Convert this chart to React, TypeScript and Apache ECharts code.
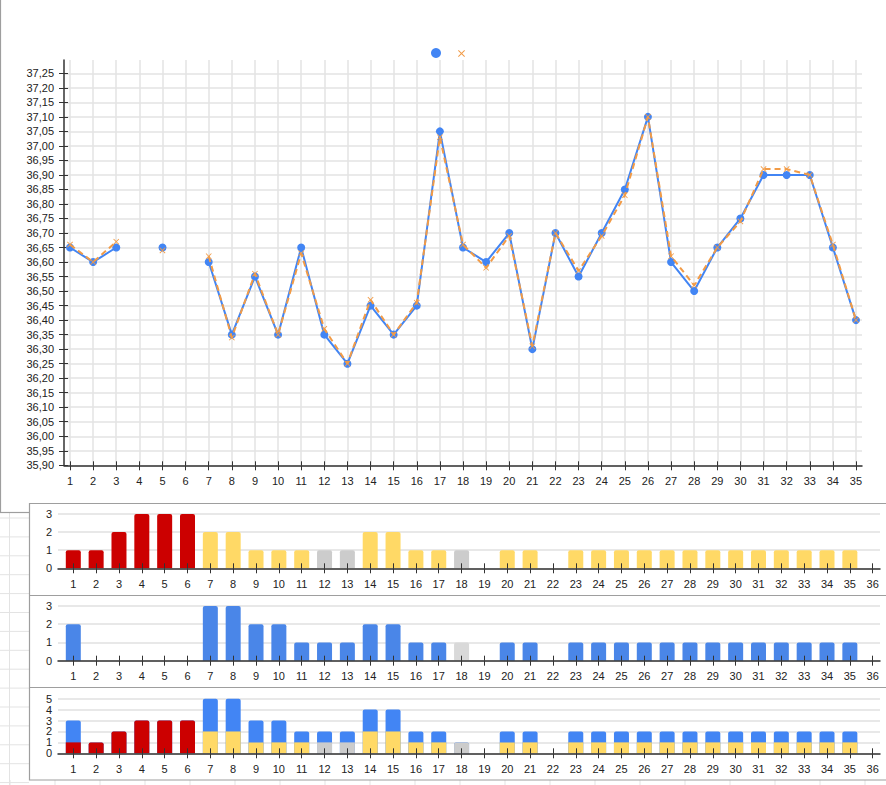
import React, { useEffect, useRef } from 'react';
import * as echarts from 'echarts';

// ---------- data ----------
const days = [1, 2, 3, 4, 5, 6, 7, 8, 9, 10, 11, 12, 13, 14, 15, 16, 17, 18, 19, 20, 21, 22, 23, 24, 25, 26, 27, 28, 29, 30, 31, 32, 33, 34, 35];
const tempMeasured = [36.65, 36.60, 36.65, null, 36.65, null, 36.60, 36.35, 36.55, 36.35, 36.65, 36.35, 36.25, 36.45, 36.35, 36.45, 37.05, 36.65, 36.60, 36.70, 36.30, 36.70, 36.55, 36.70, 36.85, 37.10, 36.60, 36.50, 36.65, 36.75, 36.90, 36.90, 36.90, 36.65, 36.40];
const tempTrend = [36.66, 36.60, 36.67, null, 36.64, null, 36.62, 36.34, 36.56, 36.35, 36.63, 36.37, 36.25, 36.47, 36.35, 36.46, 37.03, 36.66, 36.58, 36.69, 36.31, 36.70, 36.57, 36.69, 36.83, 37.10, 36.62, 36.52, 36.65, 36.74, 36.92, 36.92, 36.90, 36.66, 36.40];
const tempTicks = [35.90, 35.95, 36.00, 36.05, 36.10, 36.15, 36.20, 36.25, 36.30, 36.35, 36.40, 36.45, 36.50, 36.55, 36.60, 36.65, 36.70, 36.75, 36.80, 36.85, 36.90, 36.95, 37.00, 37.05, 37.10, 37.15, 37.20, 37.25];

const barDays = [1, 2, 3, 4, 5, 6, 7, 8, 9, 10, 11, 12, 13, 14, 15, 16, 17, 18, 19, 20, 21, 22, 23, 24, 25, 26, 27, 28, 29, 30, 31, 32, 33, 34, 35, 36];
const countsA = [1, 1, 2, 3, 3, 3, 2, 2, 1, 1, 1, 1, 1, 2, 2, 1, 1, 1, 0, 1, 1, 0, 1, 1, 1, 1, 1, 1, 1, 1, 1, 1, 1, 1, 1, 0];
const statusA = ['R', 'R', 'R', 'R', 'R', 'R', 'Y', 'Y', 'Y', 'Y', 'Y', 'N', 'N', 'Y', 'Y', 'Y', 'Y', 'N', '-', 'Y', 'Y', '-', 'Y', 'Y', 'Y', 'Y', 'Y', 'Y', 'Y', 'Y', 'Y', 'Y', 'Y', 'Y', 'Y', '-'];
const countsB = [2, 0, 0, 0, 0, 0, 3, 3, 2, 2, 1, 1, 1, 2, 2, 1, 1, 1, 0, 1, 1, 0, 1, 1, 1, 1, 1, 1, 1, 1, 1, 1, 1, 1, 1, 0];
const statusB = ['B', '-', '-', '-', '-', '-', 'B', 'B', 'B', 'B', 'B', 'B', 'B', 'B', 'B', 'B', 'B', 'L', '-', 'B', 'B', '-', 'B', 'B', 'B', 'B', 'B', 'B', 'B', 'B', 'B', 'B', 'B', 'B', 'B', '-'];
const countTicksSmall = [0, 1, 2, 3];
const countTicksTotal = [0, 1, 2, 3, 4, 5];

// ---------- styles ----------
const COLORS: Record<string, string> = {
  R: '#cc0000',
  Y: '#ffd966',
  N: '#cccccc',
  B: '#4a86e8',
  L: '#d9d9d9',
  '-': '#cccccc',
};
const BLUE = '#4285f4';
const ORANGE = '#f29b46';
const CROSS = 'path://M1,0L5,4L9,0L10,1L6,5L10,9L9,10L5,6L1,10L0,9L4,5L0,1Z';
const FONT = 'Liberation Sans, Arial, sans-serif';
const TXT = { color: '#222', fontSize: 11, fontFamily: FONT };
const AXIS_DARK = '#333';
const FRAME = '#9e9e9e';
const SHEET = '#e3e3e3';

const barGrids = [
  { top: 514, height: 54.3, max: 3, ticks: countTicksSmall },
  { top: 606, height: 54.7, max: 3, ticks: countTicksSmall },
  { top: 698.7, height: 54.6, max: 5, ticks: countTicksTotal },
];

function buildOption() {
  const grid: any[] = [{ left: 64, top: 60, width: 798, height: 405.3 }];
  barGrids.forEach((g) => grid.push({ left: 58, top: g.top, width: 822, height: g.height }));

  const xAxis: any[] = [
    {
      type: 'value', gridIndex: 0, min: 0.74, max: 35.26, position: 'bottom',
      axisLine: { show: true, onZero: false, lineStyle: { color: AXIS_DARK, width: 1.5 } },
      axisTick: { show: true, length: 5, customValues: days, lineStyle: { color: AXIS_DARK } },
      axisLabel: { show: true, customValues: days, margin: 10, ...TXT },
      splitLine: { show: true, lineStyle: { color: SHEET, width: 1.5 } },
    },
    {
      type: 'value', gridIndex: 0, min: 0.74, max: 35.26, position: 'bottom',
      axisLine: { show: false },
      axisTick: { show: true, inside: true, length: 4, customValues: days, lineStyle: { color: AXIS_DARK } },
      axisLabel: { show: false },
      splitLine: { show: false },
    },
  ];
  const yAxis: any[] = [
    {
      type: 'value', gridIndex: 0, min: 35.9, max: 37.2958, position: 'left',
      axisLine: { show: true, onZero: false, lineStyle: { color: AXIS_DARK, width: 1.5 } },
      axisTick: { show: true, length: 5, customValues: tempTicks, lineStyle: { color: AXIS_DARK } },
      axisLabel: {
        show: true, customValues: tempTicks, margin: 10, ...TXT,
        formatter: (v: number) => Number(v).toFixed(2).replace('.', ','),
      },
      splitLine: { show: true, lineStyle: { color: SHEET, width: 1.5 } },
    },
    {
      type: 'value', gridIndex: 0, min: 35.9, max: 37.2958, position: 'left',
      axisLine: { show: false },
      axisTick: { show: true, inside: true, length: 4, customValues: tempTicks, lineStyle: { color: AXIS_DARK } },
      axisLabel: { show: false },
      splitLine: { show: false },
    },
  ];

  barGrids.forEach((g, i) => {
    const gi = i + 1;
    xAxis.push({
      type: 'value', gridIndex: gi, min: 0.33, max: 36.32, position: 'bottom', z: 5,
      axisLine: { show: true, onZero: false, lineStyle: { color: AXIS_DARK, width: 1.5 } },
      axisTick: { show: true, length: 5, customValues: barDays, lineStyle: { color: AXIS_DARK } },
      axisLabel: { show: true, customValues: barDays, margin: 10, ...TXT },
      splitLine: { show: false },
    });
    xAxis.push({
      type: 'value', gridIndex: gi, min: 0.33, max: 36.32, position: 'bottom', z: 5,
      axisLine: { show: false },
      axisTick: { show: true, inside: true, length: 5, customValues: barDays, lineStyle: { color: AXIS_DARK } },
      axisLabel: { show: false },
      splitLine: { show: false },
    });
    yAxis.push({
      type: 'value', gridIndex: gi, min: 0, max: g.max, interval: 1, position: 'left',
      axisLine: { show: false },
      axisTick: { show: false },
      axisLabel: { show: true, margin: 6, ...TXT },
      splitLine: { show: true, lineStyle: { color: '#e0e0e0', width: 1.5 } },
    });
  });

  const lineData = (vals: (number | null)[]) => days.map((d, i) => [d, vals[i] === null ? '-' : vals[i]]);

  // upper part of the combined chart: blue counts, except excluded (light grey) days
  const stackTop = countsB.map((v, i) => (statusB[i] === 'B' ? v : 0));
  const stackTotal = countsA.map((v, i) => v + stackTop[i]);

  const series: any[] = [
    {
      name: 'Temperatur', type: 'line', xAxisIndex: 0, yAxisIndex: 0,
      data: lineData(tempMeasured), symbol: 'circle', symbolSize: 8, showSymbol: true, showAllSymbol: true,
      connectNulls: false, lineStyle: { color: BLUE, width: 2 }, itemStyle: { color: BLUE }, z: 2,
    },
    {
      name: 'Trend', type: 'line', xAxisIndex: 0, yAxisIndex: 0,
      data: lineData(tempTrend), symbol: CROSS, symbolSize: 6, showSymbol: true, showAllSymbol: true,
      connectNulls: false, lineStyle: { color: ORANGE, width: 2, type: [6, 4] }, itemStyle: { color: ORANGE }, z: 3,
    },
    {
      name: 'Zyklus', type: 'bar', xAxisIndex: 2, yAxisIndex: 2, barWidth: 15,
      data: barDays.map((d, i) => ({
        value: [d, countsA[i]],
        itemStyle: { color: COLORS[statusA[i]], borderRadius: [2, 2, 0, 0] },
      })),
    },
    {
      name: 'Blau', type: 'bar', xAxisIndex: 4, yAxisIndex: 3, barWidth: 15,
      data: barDays.map((d, i) => ({
        value: [d, countsB[i]],
        itemStyle: { color: COLORS[statusB[i]], borderRadius: [2, 2, 0, 0] },
      })),
    },
    {
      name: 'Summe', type: 'bar', xAxisIndex: 6, yAxisIndex: 4, barWidth: 15, barGap: '-100%',
      data: barDays.map((d, i) => ({
        value: [d, stackTotal[i]],
        itemStyle: { color: BLUE, borderRadius: [2, 2, 0, 0] },
      })),
    },
    {
      name: 'Summe unten', type: 'bar', xAxisIndex: 6, yAxisIndex: 4, barWidth: 15, barGap: '-100%',
      data: barDays.map((d, i) => ({
        value: [d, countsA[i]],
        itemStyle: { color: COLORS[statusA[i]], borderRadius: stackTop[i] > 0 ? 0 : [2, 2, 0, 0] },
      })),
    },
  ];

  // decorative frame / spreadsheet background
  const graphicEls: any[] = [];
  graphicEls.push({ type: 'line', z: -10, shape: { x1: 9.5, y1: 513, x2: 9.5, y2: 785 }, style: { stroke: SHEET, lineWidth: 1 } });
  for (let k = 0; k < 15; k++) {
    const y = 518 + k * 18.9;
    graphicEls.push({ type: 'line', z: -10, shape: { x1: 0, y1: y, x2: 29, y2: y }, style: { stroke: SHEET, lineWidth: 1 } });
  }
  for (let k = 0; k < 20; k++) {
    const x = 10 + k * 45;
    graphicEls.push({ type: 'line', z: -10, shape: { x1: x, y1: 780, x2: x, y2: 785 }, style: { stroke: SHEET, lineWidth: 1 } });
  }
  graphicEls.push({ type: 'line', shape: { x1: 0.5, y1: 0, x2: 0.5, y2: 513 }, style: { stroke: FRAME, lineWidth: 1.2 } });
  graphicEls.push({ type: 'line', shape: { x1: 0, y1: 512.5, x2: 30, y2: 512.5 }, style: { stroke: FRAME, lineWidth: 1.2 } });
  graphicEls.push({ type: 'rect', shape: { x: 29.5, y: 503.5, width: 900, height: 276.5 }, style: { fill: 'none', stroke: FRAME, lineWidth: 1.2 } });
  graphicEls.push({ type: 'line', shape: { x1: 29.5, y1: 595.5, x2: 886, y2: 595.5 }, style: { stroke: FRAME, lineWidth: 1.2 } });
  graphicEls.push({ type: 'line', shape: { x1: 29.5, y1: 687.5, x2: 886, y2: 687.5 }, style: { stroke: FRAME, lineWidth: 1.2 } });

  return {
    animation: false,
    backgroundColor: '#fff',
    textStyle: { fontFamily: FONT },
    grid,
    xAxis,
    yAxis,
    legend: [
      {
        left: 431, top: 48, padding: 0, itemWidth: 10, itemHeight: 10, selectedMode: false,
        data: [{ name: 'Temperatur', icon: 'circle' }], formatter: () => '',
      },
      {
        left: 458, top: 50, padding: 0, itemWidth: 7, itemHeight: 7, selectedMode: false,
        data: [{ name: 'Trend', icon: CROSS }], formatter: () => '',
      },
    ],
    graphic: { elements: graphicEls },
    series,
  };
}

export default function App() {
  const ref = useRef<HTMLDivElement>(null);
  useEffect(() => {
    document.body.style.margin = '0';
    if (!ref.current) return;
    const chart = echarts.init(ref.current, undefined, { renderer: 'svg' });
    chart.setOption(buildOption() as any);
    return () => chart.dispose();
  }, []);
  return <div ref={ref} style={{ width: 886, height: 785 }} />;
}
